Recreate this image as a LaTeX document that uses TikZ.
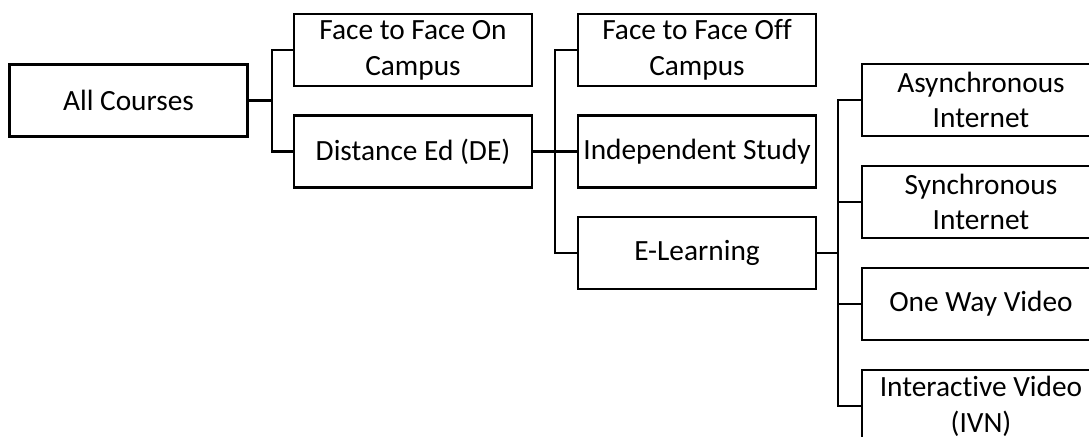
\documentclass[tikz,border=0pt]{standalone}
\usepackage{fontspec}
\setmainfont{Carlito}[Ligatures=NoCommon]
\begin{document}
\begin{tikzpicture}[x=0.75pt,y=-0.75pt,
  box/.style={draw=black,line width=2.2pt,fill=white,minimum width=178.5pt,minimum height=54pt,inner sep=0pt,align=center,font=\fontsize{22}{26.8}\selectfont},
  conn/.style={draw=black,line width=2.2pt}]
\clip (0,0) rectangle (1089,436);
\fill[white] (0,0) rectangle (1089,436);
% column 1
\node[box] (ac) at (128.5,100.5) {All Courses};
% column 2
\node[box] (ffon) at (413,50) {Face to Face On\\Campus};
\node[box] (de) at (413,151.5) {Distance Ed (DE)};
% column 3
\node[box] (ffoff) at (697,50) {Face to Face Off\\Campus};
\node[box] (is) at (697,151.5) {Independent Study};
\node[box] (el) at (697,253) {E-Learning};
% column 4
\node[box] (as) at (981,100) {Asynchronous\\Internet};
\node[box] (sy) at (981,202) {Synchronous\\Internet};
\node[box] (ow) at (981,304) {One Way Video};
\node[box] (ivn) at (981,406) {Interactive Video\\(IVN)};
% buses
\coordinate (b1) at (272,100.5);
\coordinate (b2) at (555,151.5);
\coordinate (b3) at (838,253);
\draw[conn] (ac.east) -- (b1);
\draw[conn] (ffon.west) -| (b1) |- (de.west);
\draw[conn] (de.east) -- (is.west);
\draw[conn] (ffoff.west) -| (b2) |- (el.west);
\draw[conn] (el.east) -- (b3);
\draw[conn] (as.west) -| (b3) |- (ivn.west);
\draw[conn] (sy.west) -- (sy.west -| b3);
\draw[conn] (ow.west) -- (ow.west -| b3);
\end{tikzpicture}
\end{document}
